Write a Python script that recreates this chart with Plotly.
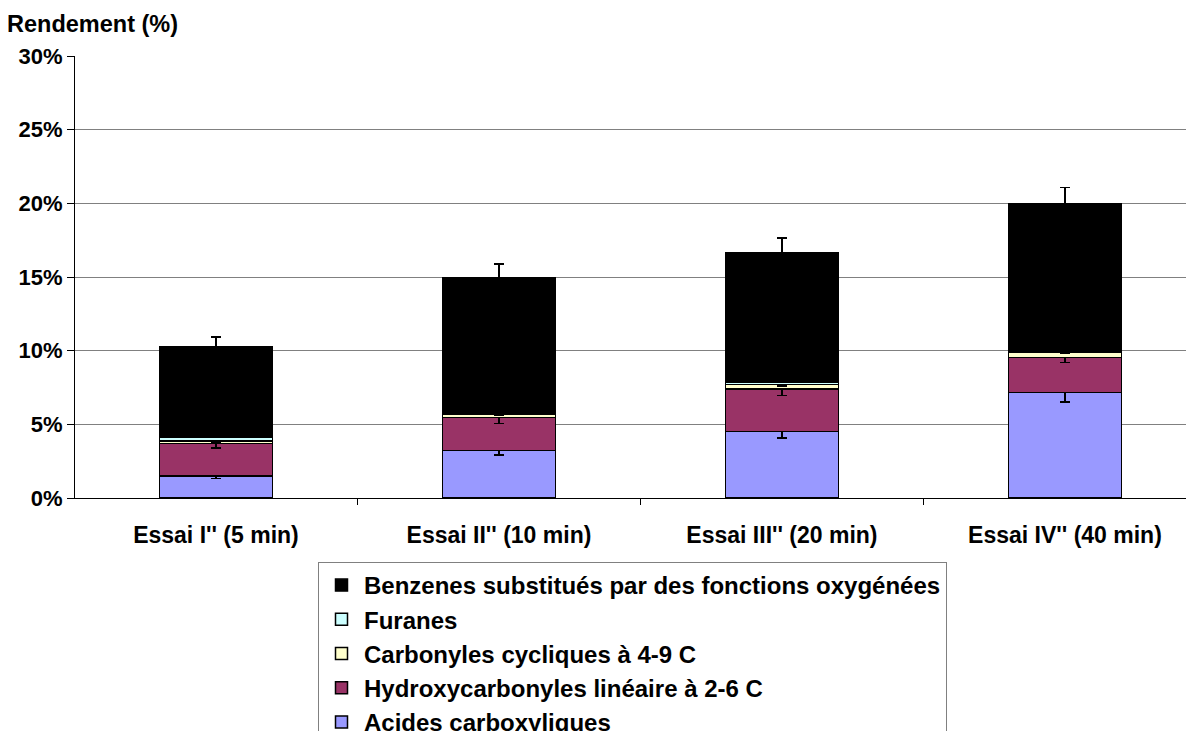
import plotly.graph_objects as go

categories = ["Essai I'' (5 min)", "Essai II'' (10 min)", "Essai III'' (20 min)", "Essai IV'' (40 min)"]

acides = [1.49, 3.24, 4.50, 7.17]
acides_err = [0.15, 0.33, 0.42, 0.66]
hydroxy = [2.22, 2.21, 2.90, 2.38]
hydroxy_err = [0.30, 0.38, 0.45, 0.36]
carbonyles = [0.15, 0.25, 0.29, 0.34]
carbonyles_err = [0.10, 0.05, 0.10, 0.05]
furanes = [0.28, 0.02, 0.20, 0.02]
furanes_err = [0.05, 0.02, 0.05, 0.02]
benzenes = [6.16, 9.26, 8.76, 10.07]
benzenes_err = [0.63, 0.90, 1.00, 1.10]

series = [
    ("Acides carboxyliques", acides, acides_err, "#9999FF"),
    ("Hydroxycarbonyles linéaire à 2-6 C", hydroxy, hydroxy_err, "#993366"),
    ("Carbonyles cycliques à 4-9 C", carbonyles, carbonyles_err, "#FFFFCC"),
    ("Furanes", furanes, furanes_err, "#CCFFFF"),
    ("Benzenes substitués par des fonctions oxygénées", benzenes, benzenes_err, "#000000"),
]

FONT = "Liberation Sans, Arial, sans-serif"

fig = go.Figure()
for i, (name, vals, errs, color) in enumerate(series):
    fig.add_trace(go.Bar(
        name=name, x=categories, y=vals, width=0.4,
        marker=dict(color=color, line=dict(color="#000000", width=1.5)),
        error_y=dict(type="data", array=errs, visible=True, color="#000000",
                     thickness=1.5, width=5),
        legendgroup=f"g{i}", legendrank=100 - i,
    ))

fig.update_layout(
    barmode="stack",
    width=1194, height=731,
    paper_bgcolor="white", plot_bgcolor="white",
    margin=dict(l=67, r=8, t=48, b=241, autoexpand=False),
    font=dict(family=FONT, size=22, color="#000000"),
    xaxis=dict(
        range=[-0.498, 3.456],
        showline=True, linecolor="#000000", linewidth=1,
        ticks="outside", tickson="boundaries", ticklen=6, tickcolor="#000000",
        tickfont=dict(family=FONT, size=23, weight="bold"),
        tickangle=0,
        showgrid=False,
        ticklabelstandoff=16,
    ),
    yaxis=dict(
        range=[0, 30], dtick=5, ticksuffix="%",
        showline=True, linecolor="#000000", linewidth=1,
        ticks="outside", ticklen=7, tickcolor="#000000",
        tickfont=dict(family=FONT, size=22, weight="bold"),
        showgrid=True, gridcolor="#808080", gridwidth=1,
        zeroline=False,
    ),
    legend=dict(
        xref="container", yref="container",
        x=310/1194, y=1 - 554/731, xanchor="left", yanchor="top",
        bgcolor="white", bordercolor="#808080", borderwidth=1,
        font=dict(family=FONT, size=24, weight="bold"),
        traceorder="grouped", tracegroupgap=0, itemwidth=35,
    ),
    annotations=[dict(
        text="<b>Rendement (%)</b>", xref="paper", yref="paper",
        x=-70/1119, y=1, xanchor="left", yanchor="bottom", yshift=17,
        showarrow=False, font=dict(family=FONT, size=23.5),
    )],
)

fig.write_html("out.html")
